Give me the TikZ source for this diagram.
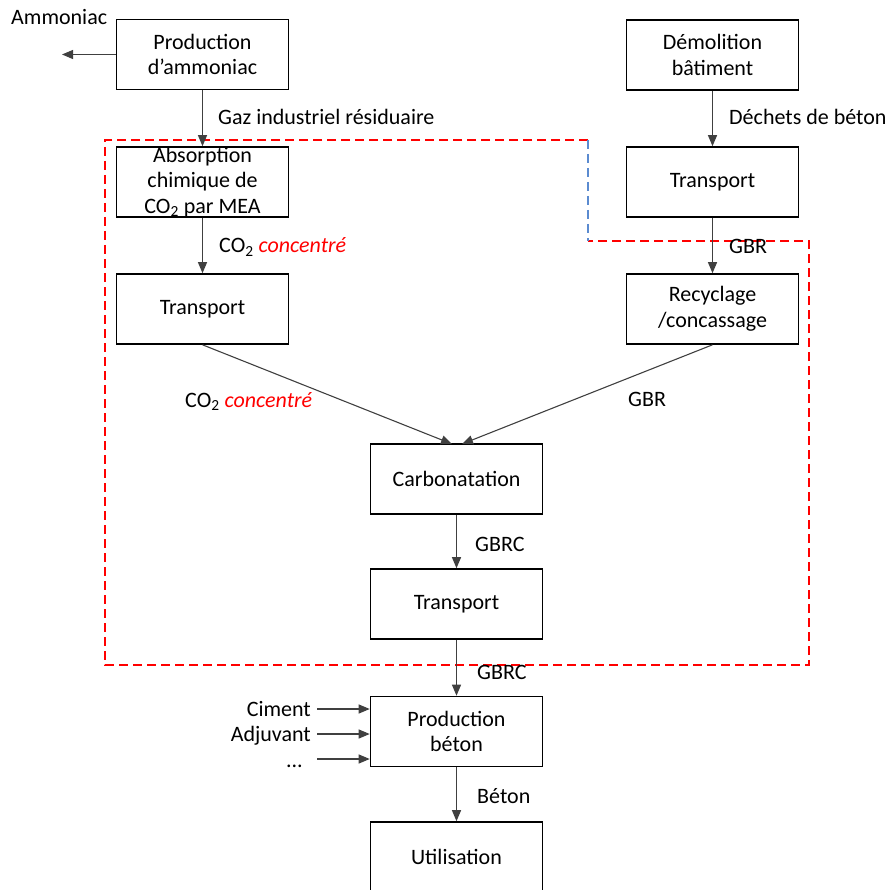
\documentclass[tikz,border=0pt]{standalone}
\usepackage{fontspec}
\setmainfont{Carlito}
\usetikzlibrary{arrows.meta}
\definecolor{zonered}{RGB}{255,0,0}
\definecolor{zoneblue}{RGB}{91,139,208}
\begin{document}
\begin{tikzpicture}[x=1pt,y=-1pt,
  every node/.style={font=\fontsize{22}{25.5}\selectfont},
  box/.style={draw=black, line width=1.6pt, minimum width=172pt, minimum height=70pt,
              align=center, inner sep=0pt},
  flow/.style={draw=black!75, line width=1.1pt, -{Triangle[length=11pt,width=9pt]}},
  lbl/.style={inner sep=0pt, anchor=base west},
  lblr/.style={inner sep=0pt, anchor=base east},
  zone/.style={draw=zonered, line width=1.6pt, dash pattern=on 9pt off 5pt},
  zoneb/.style={draw=zoneblue, line width=1.6pt, dash pattern=on 9pt off 5pt}
]
\useasboundingbox (0,0) rectangle (888,890);
\clip (0,0) rectangle (888,890);

% process boxes
\node[box] (prodA)  at (202.5,54.5) {Production\\d’ammoniac};
\node[box] (absorb) at (202.5,182)  {Absorption\\chimique de\\CO\textsubscript{2} par MEA};
\node[box] (trL)    at (202.5,309)  {Transport};
\node[box] (demol)  at (712.5,55)   {Démolition\\bâtiment};
\node[box] (trR)    at (712.5,182)  {Transport};
\node[box] (recyc)  at (712.5,309)  {Recyclage\\/concassage};
\node[box] (carb)   at (456.5,479)  {Carbonatation};
\node[box] (trM)    at (456.5,604)  {Transport};
\node[box] (beton)  at (456.5,731.5){Production\\béton};
\node[box, minimum height=72pt] (util) at (456.5,858) {};
\node (utiltxt) at (456.5,857) {Utilisation};

% free ends
\coordinate (ammout) at (62,54.5);
\coordinate (cinL) at (452,444);
\coordinate (cinR) at (462,444);

% system boundary
\draw[zone] (588,140) -- (105,140) -- (105,665) -- (809,665) -- (809,241) -- (588,241);
\draw[zoneb] (588,140) -- (588,241);

% flows
\draw[flow] (prodA.west) -- (ammout);
\draw[flow] (prodA.south) -- (absorb.north);
\draw[flow] (absorb.south) -- (trL.north);
\draw[flow] (trL.south) -- (cinL);
\draw[flow] (demol.south) -- (trR.north);
\draw[flow] (trR.south) -- (recyc.north);
\draw[flow] (recyc.south) -- (cinR);
\draw[flow] (carb.south) -- (trM.north);
\draw[flow] (trM.south) -- (beton.north);
\draw[flow] (beton.south) -- (util.north);

% inputs to concrete production
\node[lblr] (ciment) at (311,716) {Ciment};
\node[lblr] (adju)   at (311,741) {Adjuvant};
\node[lblr] (etc)    at (303,767) {...};
\coordinate (inC) at (317,709);
\coordinate (inA) at (317,734);
\coordinate (inE) at (317,759);
\draw[flow] (inC) -- (inC -| beton.west);
\draw[flow] (inA) -- (inA -| beton.west);
\draw[flow] (inE) -- (inE -| beton.west);

% flow labels
\node[lbl] (lAmm) at (11,25)  {Ammoniac};
\node[lbl] (lGaz) at (218,125) {Gaz industriel résiduaire};
\node[lbl] (lCO1) at (219,253) {CO\textsubscript{2} \textcolor{zonered}{\itshape concentré}};
\node[lbl] (lCO2) at (185,407) {CO\textsubscript{2} \textcolor{zonered}{\itshape concentré}};
\node[lbl] (lDec) at (729,125) {Déchets de béton};
\node[lbl] (lGB1) at (729,254) {GBR};
\node[lbl] (lGB2) at (628,406) {GBR};
\node[lbl] (lGC1) at (475,551) {GBRC};
\node[lbl] (lGC2) at (477,679) {GBRC};
\node[lbl] (lBet) at (477,803) {Béton};
\end{tikzpicture}
\end{document}
